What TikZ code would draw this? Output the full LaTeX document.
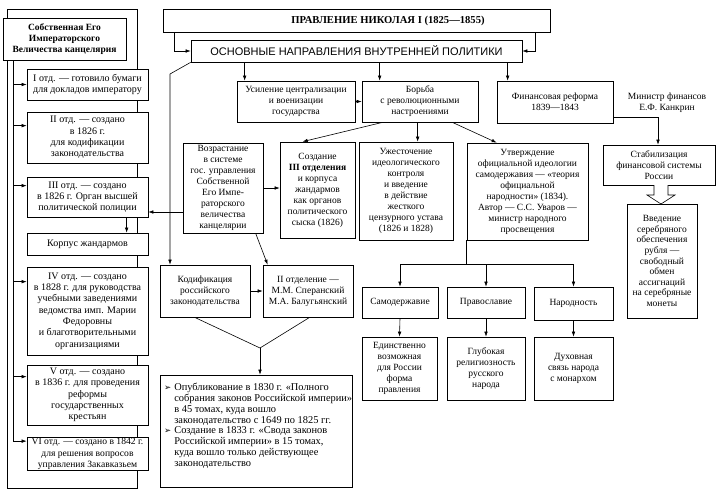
\documentclass[tikz,border=0pt]{standalone}
\usepackage{fontspec}
\setmainfont{Liberation Serif}
\newfontfamily\sansf{Liberation Sans}
\newfontfamily\dejavu{DejaVu Sans}
\usetikzlibrary{arrows.meta,calc}
\tikzset{
 box/.style={draw, line width=0.7pt, fill=white, align=center, inner sep=1pt, font=\fontsize{9.5}{11}\selectfont},
 lbox/.style={box, font=\fontsize{10}{11.3}\selectfont},
 arr/.style={-{Latex[length=5pt,width=3.6pt]}, line width=0.6pt},
 ln/.style={line width=0.6pt},
 txt/.style={align=center, inner sep=1pt, font=\fontsize{9.5}{11}\selectfont},
}
\newcommand\bx[7][]{%
 \pgfmathsetmacro\bw{#5-#3}\pgfmathsetmacro\bh{#6-#4}%
 \node[box,minimum width=\bw pt,minimum height=\bh pt,#1] (#2) at ({(#3+#5)/2},{(#4+#6)/2}) {#7};}
\newcommand\blt{{\dejavu\fontsize{8.5}{8.5}\selectfont ➢}\hspace{3pt}}
\newcommand\ind{\hphantom{\blt}}
\begin{document}
\begin{tikzpicture}[x={(1pt,0pt)},y={(0pt,-1pt)}]
\useasboundingbox (0,0) rectangle (721,493);
% left frame
\draw[ln] (7,9) rectangle (137,488);
\bx[font=\bfseries\fontsize{9.5}{11}\selectfont]{head}{3}{18}{126}{60}{Собственная Его\\Императорского\\Величества канцелярия}
\bx[lbox]{o1}{27}{69}{148}{100}{I отд. — готовило бумаги\\для докладов императору}
\bx[lbox]{o2}{27}{112}{148}{163}{II отд. — создано\\в 1826 г.\\для кодификации\\законодательства}
\bx[lbox]{o3}{27}{177}{148}{217}{III отд. — создано\\в 1826 г. Орган высшей\\политической полиции}
\bx[lbox]{korp}{27}{233}{148}{255}{Корпус жандармов}
\bx[lbox]{o4}{27}{267}{148}{355}{IV отд. — создано\\в 1828 г. для руководства\\учебными заведениями\\ведомства имп. Марии\\Федоровны\\и благотворительными\\организациями}
\bx[lbox]{o5}{27}{365}{148}{425}{V отд. — создано\\в 1836 г. для проведения\\реформы\\государственных\\крестьян}
\bx[lbox,font=\fontsize{9.6}{11.3}\selectfont]{o6}{27}{438}{148}{470}{VI отд. — создано в 1842 г.\\для решения вопросов\\управления Закавказьем}
\coordinate (sp) at (13,60);
\draw[arr] (sp) |- ($(o6.north west)+(0,4)$);
\coordinate (a1) at (o1.west);
\coordinate (a2) at ($(o2.north west)+(0,14)$);
\coordinate (a3) at ($(o3.north west)+(0,9)$);
\coordinate (a4) at ($(o4.north west)+(0,15)$);
\coordinate (a5) at ($(o5.north west)+(0,12)$);
\foreach \a in {a1,a2,a3,a4,a5} \draw[arr] (sp|-\a) -- (\a);
\draw[arr] ($(o3.south west)+(100,0)$) -- ($(korp.north west)+(100,0)$);
% top
\bx{title}{163}{9}{550}{32}{}
\node[txt,font=\bfseries\fontsize{10.6}{12}\selectfont] (ttl) at (388,21) {ПРАВЛЕНИЕ НИКОЛАЯ I (1825—1855)};
\bx[font=\sansf\fontsize{11}{13}\selectfont]{osn}{191}{40}{522}{62}{ОСНОВНЫЕ НАПРАВЛЕНИЯ ВНУТРЕННЕЙ ПОЛИТИКИ}
\draw[arr] ([xshift=12pt]title.south west) |- (osn.west);
\draw[arr] ([xshift=-15pt]title.south east) |- (osn.east);
\bx{usil}{237}{81}{355}{122}{Усиление централизации\\и военизации\\государства}
\bx{borba}{362}{81}{478}{122}{Борьба\\с революционными\\настроениями}
\bx{fin}{497}{81}{613}{123}{Финансовая реформа\\1839—1843}
\node[txt] (min) at (667,103) {Министр финансов\\Е.Ф. Канкрин};
\bx{stab}{603}{145}{715}{185}{Стабилизация\\финансовой системы\\России}
\bx[font=\fontsize{9.5}{10.6}\selectfont]{vved}{627}{204}{697}{318}{Введение\\серебряного\\обеспечения\\рубля —\\свободный\\обмен\\ассигнаций\\на серебряные\\монеты}
\coordinate (c1) at ($(usil.north west)+(8,0)$);
\coordinate (c2) at ($(borba.north west)+(18,0)$);
\coordinate (c3) at ($(fin.north west)+(11,0)$);
\foreach \c in {c1,c2,c3} \draw[arr] (\c|-osn.south) -- (\c);
\draw[arr] (usil.east) -- (borba.west);
\coordinate (k1) at (658,117);
\draw[arr] (fin.east|-k1) -| (stab.north-|k1);
\draw[ln,fill=white] (654,185) -- (654,195) -- (647,195) -- (661,204) -- (675,195) -- (668,195) -- (668,185);
% middle
\bx[font=\fontsize{9.5}{10.9}\selectfont]{vozr}{183}{143}{263}{233}{Возрастание\\в системе\\гос. управления\\Собственной\\Его Импе-\\раторского\\величества\\канцелярии}
\bx{sozd}{280}{142}{355}{238}{Создание\\\textbf{III отделения}\\и корпуса\\жандармов\\как органов\\политического\\сыска (1826)}
\bx{uzh}{359}{142}{453}{240}{Ужесточение\\идеологического\\контроля\\и введение\\в действие\\жесткого\\цензурного устава\\(1826 и 1828)}
\bx{utv}{467}{143}{588}{240}{Утверждение\\официальной идеологии\\самодержавия — «теория\\официальной\\народности» (1834).\\Автор — С.С. Уваров —\\министр народного\\просвещения}
\draw[arr] ($(borba.south west)+(21,0)$) -- ($(sozd.north west)+(23,0)$);
\coordinate (c4) at ($(uzh.north west)+(59,0)$);
\draw[arr] (c4|-borba.south) -- (c4);
\draw[arr] ($(borba.south east)+(-26,0)$) -- ($(utv.north west)+(30,0)$);
\draw[arr] (vozr.east) -- (sozd.west|-vozr.east);
\coordinate (k2) at (183,212);
\draw[arr] (vozr.west|-k2) -- (o3.east|-k2);
% triad
\bx{samo}{362}{287}{438}{318}{Самодержавие}
\bx{prav}{447}{287}{525}{318}{Православие}
\bx{narod}{534}{287}{613}{320}{Народность}
\bx{edin}{362}{337}{437}{400}{Единственно\\возможная\\для России\\форма\\правления}
\bx{glub}{447}{337}{525}{400}{Глубокая\\религиозность\\русского\\народа}
\bx{duh}{534}{337}{613}{400}{Духовная\\связь народа\\с монархом}
\coordinate (bar) at (466,264);
\draw[ln] (utv.south west) -- (utv.south west|-bar);
\draw[ln] (samo.north|-bar) -- (narod.north|-bar);
\foreach \b in {samo,prav,narod} \draw[arr] (\b.north|-bar) -- (\b.north);
\draw[arr] (samo.south) -- (edin.north);
\draw[arr] (prav.south) -- (glub.north);
\draw[arr] (narod.south) -- (duh.north);
% codification
\bx{kodif}{160}{265}{250}{317}{Кодификация\\российского\\законодательства}
\bx{otd2}{263}{265}{353}{317}{II отделение —\\М.М. Сперанский\\М.А. Балугьянский}
\bx{bot}{160}{375}{352}{487}{}
\node[anchor=north west, inner sep=0pt, align=left, font=\fontsize{10.4}{10.8}\selectfont] (bt) at (164,383) {\blt Опубликование в 1830 г. «Полного\\\ind собрания законов Российской империи»\\\ind в 45 томах, куда вошло\\\ind законодательство с 1649 по 1825 гг.\\\blt Создание в 1833 г. «Свода законов\\\ind Российской империи» в 15 томах,\\\ind куда вошло только действующее\\\ind законодательство};
\coordinate (k3) at (170,74);
\draw[arr] (osn.south west) -- (k3) -- (k3|-kodif.north);
\draw[arr] ($(vozr.south west)+(73,0)$) -- ($(otd2.north west)+(5,0)$);
\draw[arr] (kodif.east) -- (otd2.west);
\coordinate (m) at (260,348);
\draw[ln] ($(kodif.south west)+(35,0)$) -- (m) -- ($(otd2.south west)+(47,0)$);
\draw[arr] (m) -- (m|-bot.north);
\end{tikzpicture}
\end{document}
